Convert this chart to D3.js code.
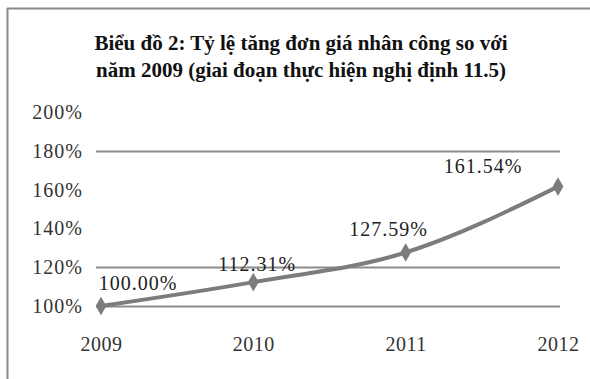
<!DOCTYPE html>
<html>
<head>
<meta charset="utf-8">
<script src="https://cdn.jsdelivr.net/npm/d3@7"></script>
<style>
  body { margin: 0; background: #fff; }
  svg { display: block; }
  text { font-family: "Liberation Serif", "Times New Roman", serif; }
</style>
</head>
<body>
<svg id="chart" width="590" height="379"></svg>
<script>
// Labour unit-price growth relative to 2009
const years = ["2009", "2010", "2011", "2012"];
const rates = [100.00, 112.31, 127.59, 161.54];
const rateLabels = ["100.00%", "112.31%", "127.59%", "161.54%"];
const yTicks = [100, 120, 140, 160, 180, 200];
const gridValues = [100, 120, 180];
const titleLines = [
  "Biểu đồ 2: Tỷ lệ tăng đơn giá nhân công so với",
  "năm 2009 (giai đoạn thực hiện nghị định 11.5)"
];

const svg = d3.select("#chart");

// outer frame (top and left edges)
svg.append("line").attr("x1", 7).attr("x2", 590).attr("y1", 8.5).attr("y2", 8.5)
  .attr("stroke", "#8a8a8a").attr("stroke-width", 2);
svg.append("line").attr("x1", 7.5).attr("x2", 7.5).attr("y1", 8).attr("y2", 379)
  .attr("stroke", "#8a8a8a").attr("stroke-width", 2);

// title
svg.append("g").selectAll("text").data(titleLines).join("text")
  .attr("x", 301).attr("y", (d, i) => 50 + i * 27)
  .attr("text-anchor", "middle")
  .attr("font-size", 21).attr("font-weight", "bold").attr("fill", "#111")
  .text(d => d);

const x = d3.scalePoint().domain(years).range([101, 558]);
const y = d3.scaleLinear().domain([100, 200]).range([306, 112]);

// horizontal grid lines
svg.append("g").selectAll("line").data(gridValues).join("line")
  .attr("x1", 96).attr("x2", 560)
  .attr("y1", d => Math.round(y(d)) + 0.5).attr("y2", d => Math.round(y(d)) + 0.5)
  .attr("stroke", "#8c8c8c").attr("stroke-width", 2);

// y axis labels
const yAxis = svg.append("g").attr("transform", "translate(83,0)")
  .call(d3.axisLeft(y).tickValues(yTicks).tickFormat(d => d + "%").tickSize(0).tickPadding(0));
yAxis.select(".domain").remove();
yAxis.selectAll("text").attr("font-size", 20).attr("fill", "#333")
  .style("letter-spacing", "1px")
  .style("font-family", "'Liberation Serif', serif");

// x axis labels
const xAxis = svg.append("g").attr("transform", "translate(0,337)")
  .call(d3.axisBottom(x).tickSize(0).tickPadding(0));
xAxis.select(".domain").remove();
xAxis.selectAll("text").attr("font-size", 20).attr("fill", "#333")
  .style("letter-spacing", "0.5px")
  .style("font-family", "'Liberation Serif', serif");

const data = years.map((yr, i) => ({ yr, v: rates[i], label: rateLabels[i] }));

// series line
svg.append("path").datum(data)
  .attr("fill", "none").attr("stroke", "#7c7c7c").attr("stroke-width", 4)
  .attr("d", d3.line().x(d => x(d.yr)).y(d => y(d.v)).curve(d3.curveMonotoneX));

// diamond markers
svg.append("g").selectAll("path").data(data).join("path")
  .attr("transform", d => `translate(${x(d.yr)},${y(d.v)})`)
  .attr("d", d3.symbol(d3.symbolDiamond, 100))
  .attr("fill", "#7c7c7c");

// value labels
const labelOffset = [[37, -16], [4, -11], [-17, -16], [-75, -14]];
svg.append("g").selectAll("text").data(data).join("text")
  .attr("x", (d, i) => x(d.yr) + labelOffset[i][0])
  .attr("y", (d, i) => y(d.v) + labelOffset[i][1])
  .attr("text-anchor", "middle")
  .attr("font-size", 20).attr("fill", "#222")
  .style("letter-spacing", "1px")
  .text(d => d.label);
</script>
</body>
</html>
